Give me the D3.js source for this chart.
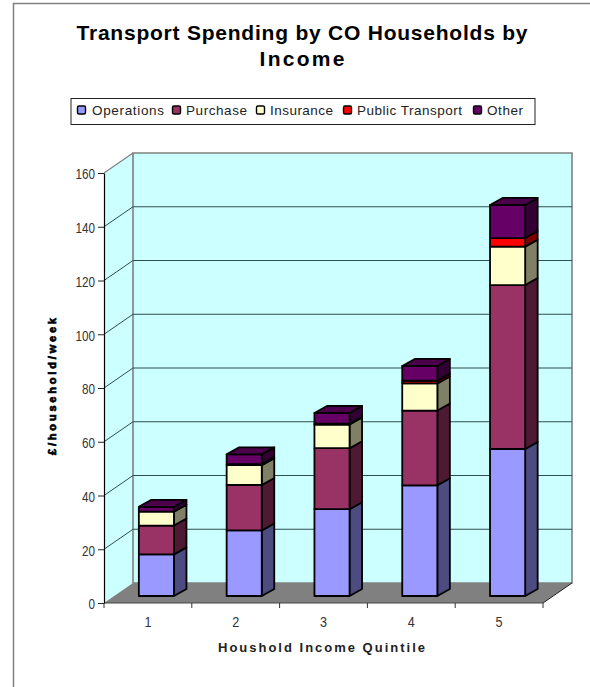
<!DOCTYPE html>
<html><head><meta charset="utf-8">
<script src="https://cdn.jsdelivr.net/npm/d3@7/dist/d3.min.js"></script>
<style>html,body{margin:0;padding:0;background:#fff}svg{display:block}text{font-family:"Liberation Sans",Arial,sans-serif}</style>
</head><body><svg id="c" width="590" height="687"></svg>
<script>
const categories = ["1","2","3","4","5"];
const seriesNames = ["Operations","Purchase","Insurance","Public Transport","Other"];
const operations = [15.5,24.4,32.3,41.2,54.7];
const purchase = [10.7,16.9,22.7,27.8,61.0];
const insurance = [5.2,7.4,8.8,10.1,14.3];
const publicTransport = [0,0.4,0.3,1.0,3.2];
const other = [1.8,3.6,4.0,5.5,12.3];
const yTicks = [0,20,40,60,80,100,120,140,160];
const frontColors = ["#9999FF","#993366","#FFFFCC","#FF0000","#660066"];
const sideColors = ["#4C4C80","#4D1933","#808066","#800000","#330033"];
const topColor = "#4C004C";

const svg = d3.select("#c");
const depth = {x:29, y:-20};
const barDepth = {x:12.5, y:-7};
const x = d3.scaleBand().domain(categories).range([104,543]);
const y = d3.scaleLinear().domain([0,160]).range([603,173]);
const barW = x.bandwidth()*0.4;
const barX = c => x(c)+x.bandwidth()/2+8.5-barW/2;
const barY = v => y(v)-7;
const poly = pts => pts.map(p=>p.join(",")).join(" ");

// outer frame
svg.append("path").attr("d","M13.5,687V3.5H590").attr("fill","none").attr("stroke","#808080").attr("stroke-width",1.5);

// title
const title = svg.append("g").attr("font-weight","bold").attr("font-size",21).attr("text-anchor","middle").attr("fill","#000");
title.append("text").attr("x",302).attr("y",40).attr("textLength",451).attr("lengthAdjust","spacing").text("Transport Spending by CO Households by");
title.append("text").attr("x",302).attr("y",66).attr("textLength",85).attr("lengthAdjust","spacing").text("Income");

// legend
svg.append("rect").attr("x",71).attr("y",98.5).attr("width",464).attr("height",26).attr("fill","#fff").attr("stroke","#222").attr("stroke-width",1);
const legendLayout = [[77,92,72],[172,186,61],[256,270,63],[343,357,105],[473,487,36]];
seriesNames.forEach((s,i)=>{
  const [mx,tx,tw] = legendLayout[i];
  svg.append("rect").attr("x",mx+.5).attr("y",106).attr("width",8).attr("height",8).attr("rx",1.5)
    .attr("fill",frontColors[i]).attr("stroke","#000").attr("stroke-width",1.4);
  svg.append("text").attr("x",tx).attr("y",115).attr("font-size",13.5).attr("fill","#222")
    .attr("textLength",tw).attr("lengthAdjust","spacing").text(s);
});

// walls and floor
const x0=x.range()[0], x1=x.range()[1], y0=y(0), yT=y(160);
svg.append("polygon").attr("points",poly([[x0,y0],[x0+depth.x,y0+depth.y],[x0+depth.x,yT+depth.y],[x0,yT]])).attr("fill","#CCFFFF").attr("stroke","none");
svg.append("polygon").attr("points",poly([[x0+depth.x,y0+depth.y],[x1+depth.x,y0+depth.y],[x1+depth.x,yT+depth.y],[x0+depth.x,yT+depth.y]])).attr("fill","#CCFFFF").attr("stroke","#808080").attr("stroke-width",1.6);
svg.append("polygon").attr("points",poly([[x0,y0],[x1,y0],[x1+depth.x,y0+depth.y],[x0+depth.x,y0+depth.y]])).attr("fill","#808080");

// gridlines
yTicks.filter(v=>v>0&&v<160).forEach(v=>{
  svg.append("path").attr("d",`M${x0},${y(v)}L${x0+depth.x},${y(v)+depth.y}H${x1+depth.x}`)
    .attr("fill","none").attr("stroke","#2F4F4F").attr("stroke-width",1);
});
svg.append("path").attr("d",`M${x0},${yT}L${x0+depth.x},${yT+depth.y}`).attr("fill","none").attr("stroke","#808080").attr("stroke-width",1.2);
svg.append("path").attr("d",`M${x1},${y0}L${x1+depth.x},${y0+depth.y}`).attr("fill","none").attr("stroke","#222").attr("stroke-width",1);
svg.append("path").attr("d",`M${x0},${y0}H${x1}`).attr("stroke","#444").attr("stroke-width",1.2);

// stacked 3D bars
const table = categories.map((c,i)=>({c,s0:operations[i],s1:purchase[i],s2:insurance[i],s3:publicTransport[i],s4:other[i]}));
const stacked = d3.stack().keys(["s0","s1","s2","s3","s4"])(table);
const bars = svg.append("g").attr("stroke","#000").attr("stroke-width",1.8).attr("stroke-linejoin","round");
stacked.forEach((layer,si)=>{
  layer.forEach(d=>{
    if(d[1]-d[0]<=0) return;
    const l=barX(d.data.c), r=l+barW, t=barY(d[1]), b=barY(d[0]);
    bars.append("polygon").attr("points",poly([[r,b],[r+barDepth.x,b+barDepth.y],[r+barDepth.x,t+barDepth.y],[r,t]])).attr("fill",sideColors[si]);
    bars.append("rect").attr("x",l).attr("y",t).attr("width",barW).attr("height",b-t).attr("fill",frontColors[si]);
    if(si===stacked.length-1){
      bars.append("polygon").attr("points",poly([[l,t],[r,t],[r+barDepth.x,t+barDepth.y],[l+barDepth.x,t+barDepth.y]])).attr("fill",topColor);
    }
  });
});

// axes
const yAxis = svg.append("g").attr("transform",`translate(${x0},0)`)
  .call(d3.axisLeft(y).tickValues(yTicks).tickSize(6).tickPadding(3).tickSizeOuter(0));
yAxis.select(".domain").attr("stroke","#000").attr("stroke-width",1.2);
yAxis.selectAll("line").attr("stroke","#222");
yAxis.selectAll("text").attr("font-size",14).attr("font-family","Liberation Sans").attr("fill","#333")
  .attr("dy","0.42em").attr("lengthAdjust","spacingAndGlyphs")
  .attr("textLength",d=>String(d).length*6.5);

const xAxis = svg.append("g").attr("transform",`translate(0,${y0})`)
  .call(d3.axisBottom(x).tickSize(0).tickPadding(12));
xAxis.select(".domain").remove();
xAxis.selectAll("text").attr("font-size",14).attr("font-family","Liberation Sans").attr("fill","#333")
  .attr("dy","0.85em").attr("lengthAdjust","spacingAndGlyphs").attr("textLength",7);
const edges = [x0].concat(categories.map(c=>x(c)+x.bandwidth()));
svg.append("g").selectAll("line").data(edges).join("line")
  .attr("x1",d=>d).attr("x2",d=>d).attr("y1",y0).attr("y2",y0+5).attr("stroke","#333");

// axis titles
svg.append("text").attr("x",321.5).attr("y",652).attr("text-anchor","middle").attr("font-size",13).attr("font-weight","bold").attr("fill","#222")
  .attr("textLength",207).attr("lengthAdjust","spacing").text("Houshold Income Quintile");
svg.append("text").attr("transform","translate(56,386.5) rotate(-90)").attr("text-anchor","middle").attr("font-size",11).attr("font-weight","bold").attr("fill","#000")
  .attr("stroke","#000").attr("stroke-width",.7)
  .attr("textLength",137).attr("lengthAdjust","spacing").text("£/household/week");
</script></body></html>
